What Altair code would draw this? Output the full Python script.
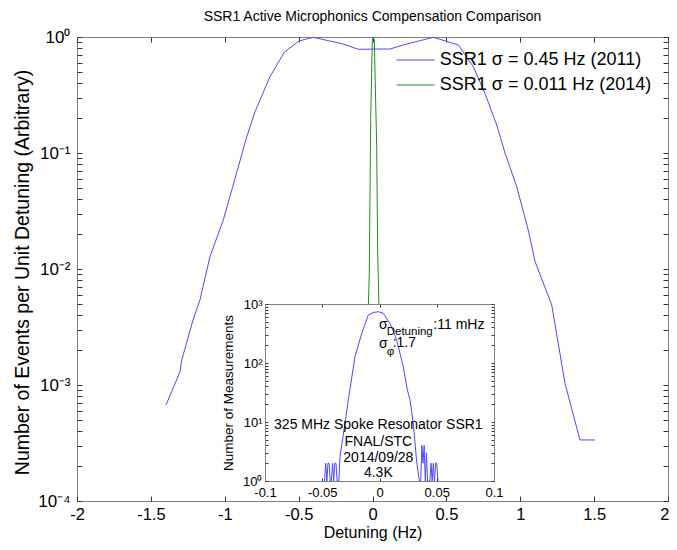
import altair as alt
import pandas as pd

FONT = "Liberation Sans"
BLUE = "#4a4aff"
GREEN = "#1f8f1f"
FRAME = "#808080"
TICK = "#333333"

TITLE = "SSR1 Active Microphonics Compensation Comparison"
SERIES = ["SSR1 σ = 0.45 Hz (2011)", "SSR1 σ = 0.011 Hz (2014)"]

# main plot: 2011 distribution
BLUE_X = [-1.398, -1.303, -1.291, -1.215, -1.168, -1.100, -1.010, -0.851, -0.795, -0.694,
          -0.597, -0.497, -0.401, -0.198, -0.096, 0.051, 0.118, 0.208, 0.411, 0.581,
          0.682, 0.761, 0.841, 0.897, 0.976, 1.054, 1.100, 1.213, 1.303, 1.404, 1.506]
BLUE_Y = [6.7e-4, 1.30e-3, 1.64e-3, 3.63e-3, 5.4e-3, 0.0128, 0.0264, 0.138, 0.227, 0.455,
          0.738, 0.924, 0.994, 0.87, 0.783, 0.788, 0.788, 0.853, 0.994, 0.853,
          0.555, 0.327, 0.174, 0.100, 0.0512, 0.0217, 0.0116, 4.9e-3, 1.03e-3, 3.36e-4, 3.36e-4]
# main plot: 2014 distribution
GREEN_X = [-0.0284, -0.0217, -0.0122, -0.0014, 0.0054, 0.0122, 0.0284, 0.0352, 0.044]
GREEN_Y = [4.7e-3, 9.2e-3, 0.192, 0.94, 1.0, 0.94, 0.113, 0.0137, 4.7e-3]

X_DOMAIN = [-2, 2]
Y_DOMAIN = [1e-4, 1]
X_TICKS = [-2, -1.5, -1, -0.5, 0, 0.5, 1, 1.5, 2]
Y_MAJOR = [1e-4, 1e-3, 1e-2, 1e-1, 1]
Y_MAJOR_LABELS = ["10⁻⁴", "10⁻³", "10⁻²", "10⁻¹", "10⁰"]
MINOR_MULT = [2, 3, 4, 5, 6, 7, 8, 9]

# inset histogram
INSET_X = [-0.048, -0.047, -0.046, -0.045, -0.044, -0.043, -0.042, -0.041, -0.040, -0.039,
           -0.038, -0.037, -0.0355, -0.0345, -0.0301, -0.0272, -0.0214, -0.0155, -0.0098,
           -0.005, -0.001, 0.0033, 0.0092, 0.015, 0.0208, 0.0243, 0.0266, 0.0295, 0.0325,
           0.0348, 0.036, 0.037, 0.038, 0.039, 0.040, 0.041, 0.042, 0.043, 0.044, 0.045,
           0.046, 0.047, 0.048, 0.049, 0.050, 0.051]
INSET_Y = [1, 2, 1, 2, 2, 1, 1, 2, 1, 2,
           2, 1, 1, 2.6, 9.5, 24, 128, 318, 650,
           720, 740, 695, 468, 245, 86, 35, 24, 9.5, 2.1,
           1, 1, 4, 2, 4, 1, 3, 1, 1, 1, 2,
           1, 2, 1, 2, 2, 1]
INSET_X_DOMAIN = [-0.1, 0.1]
INSET_Y_DOMAIN = [1, 1000]
INSET_X_TICKS = [-0.1, -0.05, 0, 0.05, 0.1]
INSET_Y_MAJOR = [1, 10, 100, 1000]
INSET_Y_MAJOR_LABELS = ["10⁰", "10¹", "10²", "10³"]

ANNOT_TEXT = ["σ", "Detuning", ":11 mHz", "σ", "φ", ":1.7"]
ANNOT_X = [-0.0004, 0.0063, 0.047, -0.0004, 0.0063, 0.0115]
ANNOT_Y = [441, 335, 441, 210, 153, 218]
ANNOT_SIZE = [14, 11.5, 14, 14, 11.5, 14]
INFO_TEXT = ["325 MHz Spoke Resonator SSR1", "FNAL/STC", "2014/09/28", "4.3K"]
INFO_X = [-0.001, -0.001, -0.001, -0.001]
INFO_Y = [8.9, 4.63, 2.43, 1.35]

# layout (plot-area pixels)
W, H = 591, 464
INSET_RANGE_X = [188, 417]
INSET_RANGE_Y = [444, 267]


def sup_expr(majors, labels):
    parts = [f"datum.value == {v!r} ? '{l}'" for v, l in zip(majors, labels)]
    return " : ".join(parts) + " : ''"


def neg(n):
    return {"expr": f"-{n}"}


def ax(**kw):
    base = dict(grid=False, tickColor=TICK, tickWidth=1, labelFont=FONT, labelColor="black",
                titleFont=FONT, titleColor="black", titleFontWeight="normal",
                labelFlush=False, labelOverlap=False, domain=False)
    base.update(kw)
    return alt.Axis(**base)


main_y_ticks = sorted(Y_MAJOR + [m * v for v in Y_MAJOR[:-1] for m in MINOR_MULT])
inset_y_ticks = sorted(INSET_Y_MAJOR + [m * v for v in INSET_Y_MAJOR[:-1] for m in MINOR_MULT])

main_df = pd.DataFrame({
    "x": BLUE_X + GREEN_X,
    "y": BLUE_Y + GREEN_Y,
    "series": [SERIES[0]] * len(BLUE_X) + [SERIES[1]] * len(GREEN_X),
})

xs_main = alt.Scale(domain=X_DOMAIN, nice=False, zero=False)
ys_main = alt.Scale(type="log", domain=Y_DOMAIN, nice=False)

last_x = X_TICKS[-1]
main_lines = alt.Chart(main_df).mark_line(strokeWidth=1).encode(
    x=alt.X("x:Q", scale=xs_main, axis=ax(
        orient="bottom", values=X_TICKS, labelExpr="'' + datum.value", labelFontSize=16.5,
        labelAlign={"condition": {"test": f"datum.value == {last_x}", "value": "right"},
                    "value": "center"},
        labelOffset={"condition": {"test": f"datum.value == {last_x}", "value": 1},
                     "value": 0},
        labelPadding=10, tickSize=neg(5), title="Detuning (Hz)", titleFontSize=16,
        titleY=31, titleBaseline="middle")),
    y=alt.Y("y:Q", scale=ys_main, axis=ax(
        orient="left", values=main_y_ticks, labelExpr=sup_expr(Y_MAJOR, Y_MAJOR_LABELS),
        labelFontSize=17, labelPadding=12, tickSize=neg(5),
        title="Number of Events per Unit Detuning (Arbitrary)", titleFontSize=19.5,
        titleX=-55, titleY=235, titleAlign="center", titleBaseline="middle")),
    color=alt.Color("series:N", scale=alt.Scale(domain=SERIES, range=[BLUE, GREEN]),
                    legend=alt.Legend(title=None, orient="none", legendX=329.7, legendY=14,
                                      direction="vertical", symbolType="M-3,0H3",
                                      symbolSize=160.4, symbolStrokeWidth=1,
                                      labelFont=FONT, labelFontSize=18, labelColor="black",
                                      labelOffset=15.1, labelLimit=0, rowPadding=7,
                                      padding=0)),
    order="x:Q",
)

main_frame = alt.Chart(main_df).mark_line(opacity=0).encode(
    x=alt.X("x:Q", scale=xs_main, axis=ax(orient="top", values=X_TICKS, labels=False,
                                           tickSize=neg(5), title=None)),
    y=alt.Y("y:Q", scale=ys_main, axis=ax(orient="right", values=main_y_ticks, labels=False,
                                           tickSize=neg(5), title=None)),
    detail="series:N",
)

main = alt.layer(main_lines, main_frame).resolve_axis(x="independent", y="independent")

xs_in = alt.Scale(domain=INSET_X_DOMAIN, range=INSET_RANGE_X, nice=False, zero=False)
ys_in = alt.Scale(type="log", domain=INSET_Y_DOMAIN, range=INSET_RANGE_Y, nice=False)

bg_df = pd.DataFrame({"x": [INSET_X_DOMAIN[0]], "x2": [INSET_X_DOMAIN[1]],
                      "y": [INSET_Y_DOMAIN[0]], "y2": [INSET_Y_DOMAIN[1]]})
inset_df = pd.DataFrame({"x": INSET_X, "y": INSET_Y})
annot_df = pd.DataFrame({"x": ANNOT_X, "y": ANNOT_Y, "t": ANNOT_TEXT, "s": ANNOT_SIZE})
info_df = pd.DataFrame({"x": INFO_X, "y": INFO_Y, "t": INFO_TEXT})

inset_bg = alt.Chart(bg_df).mark_rect(fill="white").encode(
    x=alt.X("x:Q", scale=xs_in, axis=ax(
        orient="bottom", offset=-20, domain=True, domainColor=FRAME, values=INSET_X_TICKS,
        labelExpr="'' + datum.value", labelFontSize=13, labelPadding=8, tickSize=neg(3),
        title=None, zindex=1)),
    x2="x2:Q",
    y=alt.Y("y:Q", scale=ys_in, axis=ax(
        orient="left", offset=-188, domain=True, domainColor=FRAME, values=inset_y_ticks,
        labelExpr=sup_expr(INSET_Y_MAJOR, INSET_Y_MAJOR_LABELS), labelFontSize=13,
        labelPadding=6, tickSize=neg(3), title="Number of Measurements", titleFontSize=13.5,
        titleX=-37, titleBaseline="middle", zindex=1)),
    y2="y2:Q",
)

inset_line = alt.Chart(inset_df).mark_line(color=BLUE, strokeWidth=1).encode(
    x=alt.X("x:Q", scale=xs_in, axis=ax(
        orient="top", offset=-267, domain=True, domainColor=FRAME, values=INSET_X_TICKS,
        labels=False, tickSize=neg(3), title=None, zindex=1)),
    y=alt.Y("y:Q", scale=ys_in, axis=ax(
        orient="right", offset=-174, domain=True, domainColor=FRAME, values=inset_y_ticks,
        labels=False, tickSize=neg(3), title=None, zindex=1)),
    order="x:Q",
)

inset_annot = alt.Chart(annot_df).mark_text(align="left", baseline="middle", font=FONT,
                                            color="black").encode(
    x=alt.X("x:Q", scale=xs_in, axis=None),
    y=alt.Y("y:Q", scale=ys_in, axis=None),
    text="t:N",
    size=alt.Size("s:Q", scale=None, legend=None),
)

inset_info = alt.Chart(info_df).mark_text(align="center", baseline="middle", font=FONT,
                                          fontSize=14, color="black").encode(
    x=alt.X("x:Q", scale=xs_in, axis=None),
    y=alt.Y("y:Q", scale=ys_in, axis=None),
    text="t:N",
)

inset = alt.layer(inset_bg, inset_line, inset_annot, inset_info).resolve_axis(
    x="independent", y="independent")

chart = alt.layer(main, inset).resolve_scale(x="independent", y="independent").properties(
    width=W, height=H,
    padding={"left": 69, "top": 29, "right": 1, "bottom": 41},
    autosize=alt.AutoSizeParams(type="none"),
    title=alt.TitleParams(TITLE, font=FONT, fontSize=14, fontWeight="normal", color="black",
                          anchor="middle", offset=4),
).configure_view(stroke=FRAME, strokeWidth=1)

chart.save("out.html", embed_options={"renderer": "svg", "actions": False})
